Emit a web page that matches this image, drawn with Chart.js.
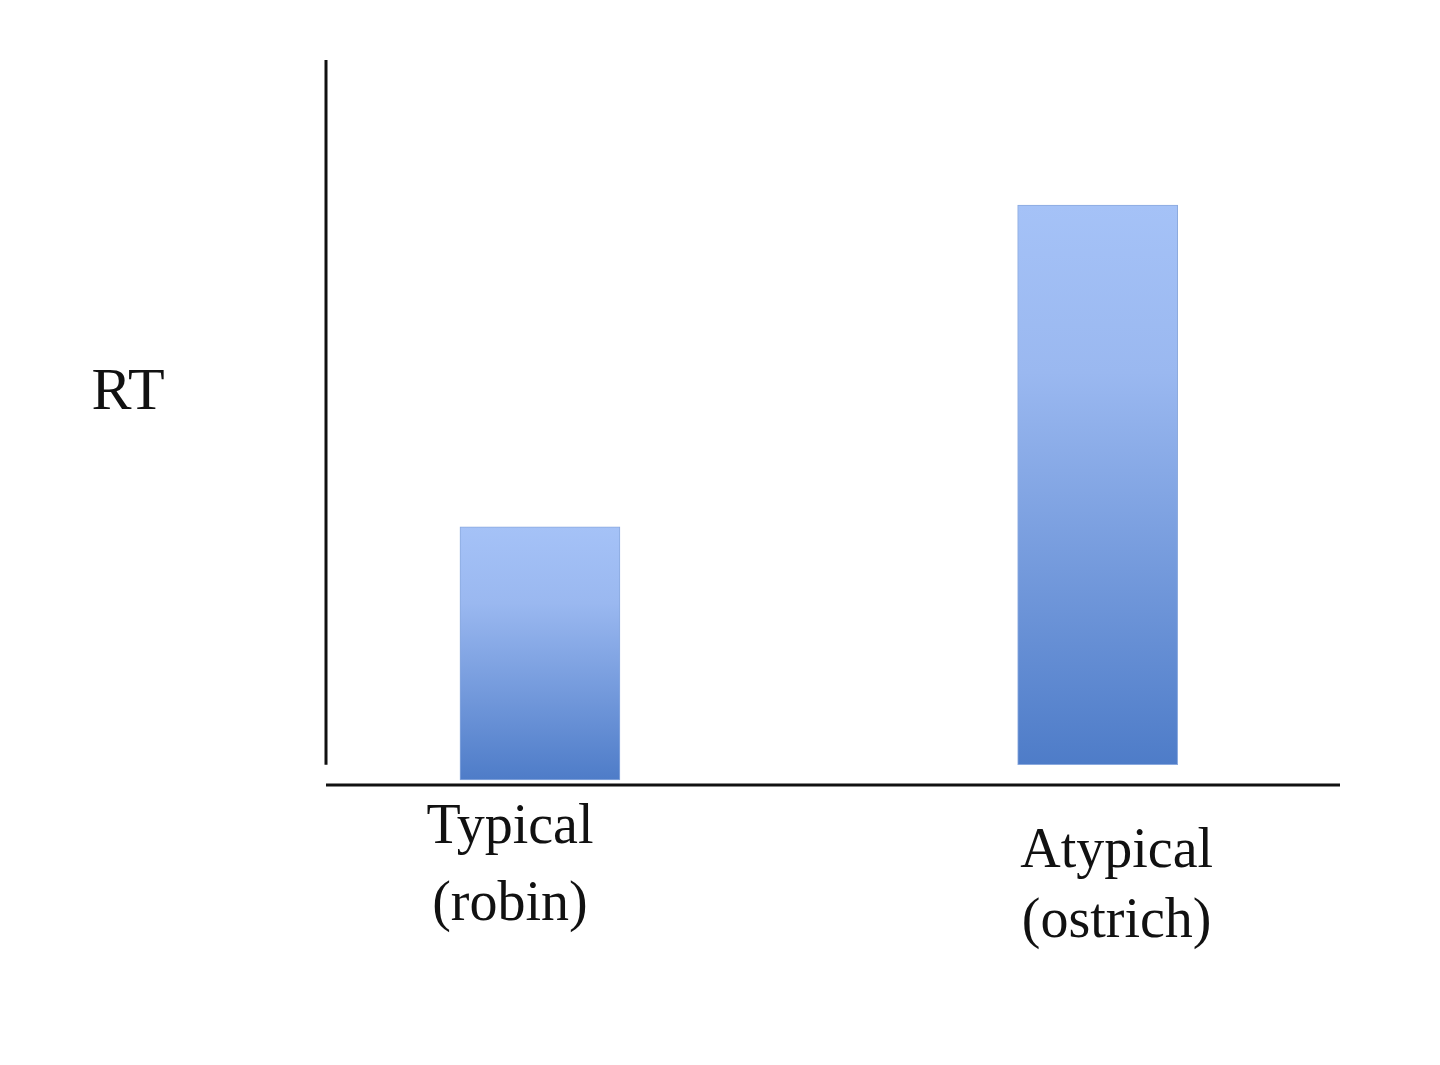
<!DOCTYPE html>
<html>
<head>
<meta charset="utf-8">
<script src="https://cdn.jsdelivr.net/npm/chart.js@4"></script>
<style>
  html, body { margin: 0; padding: 0; background: #fff; }
  #wrap { width: 1440px; height: 1065px; }
</style>
</head>
<body>
<div id="wrap"><canvas id="bar-chart" width="1440" height="1065"></canvas></div>
<script>
// categories, two lines each
categories = [['Typical', '(robin)'], ['Atypical', '(ostrich)']]
// where the bars sit on the 0-100 horizontal scale
positions = [21.1, 76.1]
// floating bars: [bottom, top] in RT units (axis runs 0-100)
barValues = [[0.7, 35.6], [2.8, 80]]
axisTitle = 'RT'

// draws the two axis lines, the RT label and the category labels
axesPlugin = {
    id: 'axes',
    afterDraw: function(chart){
        var c = chart.ctx
        var xs = chart.scales.x, ys = chart.scales.y
        c.save()
        c.strokeStyle = '#111'
        c.lineWidth = 3
        c.beginPath()
        c.moveTo(xs.getPixelForValue(0), ys.getPixelForValue(100))
        c.lineTo(xs.getPixelForValue(0), ys.getPixelForValue(2.8))
        c.moveTo(xs.getPixelForValue(0), ys.getPixelForValue(0))
        c.lineTo(xs.getPixelForValue(100), ys.getPixelForValue(0))
        c.stroke()

        c.fillStyle = '#111'
        c.font = '60px "Liberation Serif", serif'
        c.textAlign = 'center'
        c.textBaseline = 'middle'
        c.fillText(axisTitle, 128, 393)

        c.font = '56px "Liberation Serif", serif'
        var offsets = [[-30, 828, 905], [19, 852, 922]]
        categories.forEach(function(lines, i){
            var px = xs.getPixelForValue(positions[i]) + offsets[i][0]
            c.fillText(lines[0], px, offsets[i][1])
            c.fillText(lines[1], px, offsets[i][2])
        })
        c.restore()
    }
}

window.onload = function(){
    ctx = document.getElementById('bar-chart')
    config = {
        type: 'bar',
        data: {
            datasets: [{
                data: positions.map(function(p, i){ return {x: p, y: barValues[i]} }),
                barThickness: 160,
                borderWidth: 1,
                borderSkipped: false,
                borderColor: '#8aa9de',
                backgroundColor: function(context){
                    var chart = context.chart
                    var ys = chart.scales.y
                    if (!chart.chartArea || !ys || context.dataIndex === undefined) return '#7a9ee0'
                    var v = barValues[context.dataIndex]
                    var g = chart.ctx.createLinearGradient(0, ys.getPixelForValue(v[1]), 0, ys.getPixelForValue(v[0]))
                    g.addColorStop(0, '#a5c2f7')
                    g.addColorStop(0.3, '#9ab8f0')
                    g.addColorStop(1, '#4e7cc8')
                    return g
                }
            }]
        },
        options: {
            responsive: false,
            animation: false,
            layout: { padding: { left: 326, right: 100, top: 60, bottom: 280 } },
            plugins: { legend: { display: false }, tooltip: { enabled: false } },
            scales: {
                x: { type: 'linear', min: 0, max: 100, offset: false, display: false },
                y: { min: 0, max: 100, display: false }
            }
        },
        plugins: [axesPlugin]
    }
    createNewChart = new Chart(ctx, config)
}
</script>
</body>
</html>
